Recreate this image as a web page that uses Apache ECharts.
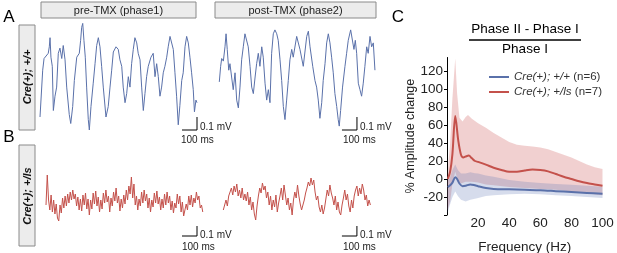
<!DOCTYPE html>
<html>
<head>
<meta charset="utf-8">
<title>Amplitude change</title>
<script src="https://cdn.jsdelivr.net/npm/echarts@6/dist/echarts.min.js"></script>
<style>
html, body { margin: 0; padding: 0; background: #fff; }
#fig { width: 617px; height: 253px; }
</style>
</head>
<body>
<div id="fig"></div>
<script>
// ---- traces (A: Cre(+); +/+), [ms, mV] ----
var preWtTrace = [[0,0.10],[18,0.46],[27,0.55],[40,0.54],[55,0.59],[62,0.64],[67,0.71],[73,0.56],[82,0.49],[89,0.15],[100,0.26],[111,0.33],[122,0.59],[133,0.63],[145,0.55],[155,0.65],[167,0.54],[178,0.33],[195,0.12],[205,0.05],[218,0.18],[229,0.38],[245,0.56],[262,0.59],[271,0.69],[278,0.79],[285,0.82],[293,0.69],[302,0.56],[311,0.33],[322,0.08],[329,0.00],[340,0.18],[355,0.36],[367,0.51],[378,0.65],[389,0.71],[400,0.64],[411,0.49],[422,0.33],[440,0.10],[455,0.18],[467,0.33],[478,0.46],[489,0.60],[507,0.64],[522,0.62],[533,0.54],[545,0.49],[555,0.33],[567,0.21],[578,0.28],[589,0.41],[600,0.33],[611,0.51],[622,0.62],[633,0.71],[645,0.67],[655,0.59],[667,0.54],[678,0.33],[689,0.15],[700,0.28],[711,0.41],[722,0.49],[740,0.56],[755,0.59],[767,0.41],[778,0.51],[789,0.41],[800,0.26],[811,0.33],[822,0.44],[833,0.49],[845,0.56],[855,0.64],[867,0.72],[878,0.73],[889,0.62],[900,0.44],[911,0.26],[922,0.04],[933,0.19],[945,0.38],[955,0.44],[967,0.64],[978,0.72],[989,0.67],[1000,0.56],[1011,0.44],[1022,0.31],[1030,0.14],[1040,0.23],[1047,0.21]];
var postWtTrace = [[0,0.37],[9,0.49],[16,0.55],[27,0.53],[38,0.64],[45,0.74],[53,0.62],[63,0.46],[71,0.51],[83,0.40],[93,0.31],[105,0.44],[116,0.23],[127,0.17],[138,0.33],[149,0.54],[160,0.64],[171,0.74],[183,0.73],[193,0.64],[205,0.49],[216,0.33],[227,0.28],[238,0.40],[249,0.51],[260,0.59],[271,0.49],[283,0.64],[293,0.56],[305,0.36],[316,0.23],[327,0.31],[338,0.21],[349,0.59],[360,0.74],[371,0.77],[383,0.74],[393,0.69],[405,0.54],[416,0.38],[427,0.18],[438,0.08],[449,0.23],[460,0.38],[471,0.54],[483,0.62],[493,0.56],[516,0.72],[538,0.62],[560,0.49],[583,0.72],[594,0.76],[605,0.64],[623,0.49],[638,0.38],[649,0.33],[660,0.23],[671,0.09],[683,0.21],[693,0.38],[705,0.51],[716,0.67],[727,0.74],[738,0.67],[749,0.56],[760,0.44],[771,0.28],[783,0.18],[793,0.08],[800,0.03],[809,0.15],[822,0.33],[838,0.49],[849,0.59],[860,0.69],[876,0.77],[889,0.78],[898,0.62],[907,0.69],[916,0.59],[927,0.36],[938,0.31],[949,0.26],[960,0.36],[971,0.49],[983,0.64],[993,0.59],[1005,0.72],[1016,0.64],[1027,0.67],[1038,0.46]];

// ---- traces (B: Cre(+); +/ls), mV sampled every step ms ----
var preLsStep = 8.5;
var preLsTrace = [-0.03,0.27,0.02,-0.08,0.07,-0.10,0.02,-0.12,-0.02,-0.16,
  -0.19,-0.03,-0.11,0.04,-0.06,0.06,-0.04,0.08,-0.01,0.10,
  0.02,0.12,0.03,0.08,-0.04,0.05,-0.08,0.03,-0.09,0.07,
  -0.03,0.09,-0.07,0.03,-0.13,0.02,-0.07,0.09,-0.02,0.11,
  -0.04,0.05,-0.10,0.02,-0.07,0.09,-0.01,0.12,0.00,0.06,
  -0.10,0.04,-0.04,0.10,0.01,0.14,-0.01,0.06,-0.09,0.03,
  -0.06,0.07,-0.02,0.12,0.02,0.16,0.08,0.25,0.04,0.18,
  -0.03,0.06,-0.08,0.03,-0.04,0.10,-0.01,0.12,0.01,0.08,
  -0.06,0.04,-0.10,0.02,-0.05,0.09,-0.01,0.11,-0.02,0.05,
  -0.08,0.03,-0.06,0.08,-0.03,0.10,-0.01,0.06,-0.08,0.01,
  -0.11,-0.01,-0.06,0.08,-0.02,0.06,-0.10,0.00,-0.14,-0.16,
  -0.02,-0.08,0.06,-0.03,0.07,-0.05,0.04,-0.01,0.10,0.02,
  0.06,-0.06,-0.03,-0.10];
var postLsStep = 9;
var postLsTrace = [-0.12,-0.07,-0.02,-0.08,0.02,0.06,0.10,
  0.03,0.12,0.06,0.14,0.02,0.08,0.00,0.10,-0.02,0.04,
  -0.03,0.06,-0.07,0.01,-0.12,-0.04,-0.16,-0.22,
  -0.08,0.02,0.10,0.05,0.15,0.08,0.12,
  0.00,0.06,-0.07,0.02,-0.12,-0.02,-0.09,0.03,-0.14,-0.05,
  0.02,0.10,-0.02,0.13,0.03,-0.07,0.00,-0.12,-0.05,-0.17,-0.02,
  0.06,0.00,0.13,0.02,-0.06,-0.12,-0.10,-0.02,
  0.05,0.10,0.16,0.12,0.20,0.13,0.18,
  0.06,-0.02,0.02,-0.09,-0.14,-0.07,-0.16,-0.10,
  -0.01,0.08,0.02,0.13,0.05,0.00,-0.07,0.02,-0.12,-0.04,-0.14,
  -0.17,-0.07,0.00,0.08,-0.02,0.04,-0.08,-0.14,-0.02,-0.10,0.02,
  0.08,0.12,0.02,0.10,0.04,0.14,0.08,-0.02,0.03,-0.08,-0.02,-0.07];

// ---- C: % amplitude change vs frequency, [Hz, %] ----
var wtMean  = [[0.5,-9],[2,-7],[3.5,-4],[5.3,2],[6.5,0],[8,-5],[10,-8],[12,-7.5],[15,-6],[18,-7],[20,-8],[25,-10],[30,-11],[40,-11.5],[50,-12],[60,-12.5],[70,-13.5],[80,-14.5],[90,-15.5],[100,-16.5]];
var wtUpper = [[0.3,-2],[2,2],[3.5,10],[5.3,16],[7,10],[9,6],[12,6],[15,7.5],[18,6.5],[20,6],[25,4],[30,2.5],[40,-1],[50,-3],[60,-4.5],[70,-5.5],[80,-6.5],[90,-7.5],[100,-8.5]];
var wtLower = [[0.3,-38],[2,-28],[3.5,-20],[5.3,-14],[7,-19],[9,-23],[12,-25],[15,-23],[18,-22],[20,-21],[25,-19],[30,-18],[40,-17],[50,-16.5],[60,-17],[70,-18],[80,-19],[90,-20],[100,-21]];
var lsMean  = [[0.5,0],[2,8],[3.5,28],[5.3,70],[7.3,42],[9,27],[10.5,24],[12,25],[14,26],[16,23],[18,20],[20,19],[25,16],[30,12.5],[35,10],[40,8],[45,8],[50,9.5],[55,10.5],[60,10],[65,8.5],[70,5.5],[75,2.5],[80,0],[85,-2.5],[90,-4.5],[95,-6],[100,-7.5]];
var lsUpper = [[0.3,5],[2,40],[3.5,90],[5.3,134],[6.5,95],[8,68],[10,64],[12,69],[13.5,71],[16,67],[20,62],[25,57],[30,51],[35,46],[40,41],[45,38],[50,37],[55,36],[60,35],[65,33],[70,30],[75,27],[80,24],[85,20],[90,16],[95,13],[100,11]];
var lsLower = [[0.3,-35],[2,-25],[3.5,-5],[5.3,8],[7,-2],[9,-5],[12,-3],[16,-3],[20,-4],[25,-6],[30,-7],[40,-9],[50,-10],[60,-11],[70,-12],[80,-14],[90,-16],[100,-18]];

var wtName = 'Cre(+); +/+ (n=6)';
var lsName = 'Cre(+); +/ls (n=7)';
var freqTicks = [20, 40, 60, 80, 100];
var scaleBarMs = 100, scaleBarMv = 0.1;

// ---- layout ----
var FONT = "'Liberation Sans', Arial, sans-serif";
var BLUE = '#5a71aa', RED = '#c4514b';
// scale bar corner for each trace panel: [ms, mV]
var barCorners = [[1047, 0], [918, 0], [1007, -0.34], [891, -0.38]];

function sampled(vals, step) {
    return vals.map(function (v, i) { return [i * step, v]; });
}
function scaleBar(c) {
    return [[c[0] - scaleBarMs, c[1]], [c[0], c[1]], [c[0], c[1] + scaleBarMv]];
}
function traceSeries(idx, data, color) {
    return {
        type: 'line', xAxisIndex: idx, yAxisIndex: idx, data: data,
        showSymbol: false, silent: true,
        lineStyle: { color: color, width: 1 }
    };
}
function barSeries(idx) {
    return {
        type: 'line', xAxisIndex: idx, yAxisIndex: idx, data: scaleBar(barCorners[idx]),
        showSymbol: false, silent: true,
        lineStyle: { color: '#000', width: 1 }
    };
}
function band(upper, lower, fill) {
    return {
        type: 'custom', xAxisIndex: 4, yAxisIndex: 4, data: [[0, 0]], silent: true, z: 1,
        renderItem: function (params, api) {
            var pts = [];
            upper.forEach(function (p) { pts.push(api.coord(p)); });
            lower.slice().reverse().forEach(function (p) { pts.push(api.coord(p)); });
            return { type: 'polygon', shape: { points: pts }, style: { fill: fill } };
        }
    };
}
function hiddenX(idx, max) { return { type: 'value', gridIndex: idx, min: 0, max: max, show: false }; }
function hiddenY(idx, min, max) { return { type: 'value', gridIndex: idx, min: min, max: max, show: false }; }
function plotGrid(left, top, width, height) {
    return { left: left, top: top, width: width, height: height, outerBoundsMode: 'none', containLabel: false };
}

function txt(x, y, text, size, opts) {
    opts = opts || {};
    return {
        type: 'text', x: x, y: y, rotation: opts.rotation || 0, silent: true,
        style: {
            text: text, x: 0, y: 0,
            font: (opts.style || '') + ' ' + (opts.weight || 'normal') + ' ' + size + 'px ' + FONT,
            fill: opts.color || '#222',
            textAlign: opts.align || 'center', textVerticalAlign: 'middle'
        }
    };
}
function box(x, y, w, h) {
    return {
        type: 'rect', shape: { x: x, y: y, width: w, height: h }, silent: true,
        style: { fill: '#ececec', stroke: '#8a8a8a', lineWidth: 1 }
    };
}

var chart = echarts.init(document.getElementById('fig'));
var option = {
    animation: false,
    backgroundColor: '#fff',
    textStyle: { fontFamily: FONT },
    grid: [
        plotGrid(40, 19.5, 157, 117),
        plotGrid(219.3, 19.5, 157, 117),
        plotGrid(46, 170, 157, 72),
        plotGrid(223.3, 170, 157, 72),
        plotGrid(447, 57.5, 155.5, 157.5)
    ],
    xAxis: [
        hiddenX(0, 1047), hiddenX(1, 1047), hiddenX(2, 1047), hiddenX(3, 1047),
        {
            type: 'value', gridIndex: 4, min: 0, max: 100, interval: 20,
            axisLine: { show: false }, axisTick: { show: false }, splitLine: { show: false },
            axisLabel: {
                margin: 1, fontSize: 13.5, color: '#222',
                formatter: function (v) { return freqTicks.indexOf(v) >= 0 ? String(v) : ''; }
            },
            name: 'Frequency (Hz)', nameLocation: 'middle', nameGap: 25,
            nameTextStyle: { fontSize: 13.5, color: '#222' }
        }
    ],
    yAxis: [
        hiddenY(0, -0.05, 0.85), hiddenY(1, -0.05, 0.85), hiddenY(2, -0.40, 0.32), hiddenY(3, -0.44, 0.28),
        {
            type: 'value', gridIndex: 4, min: -40, max: 135, interval: 20,
            axisLine: { show: true, lineStyle: { color: '#000', width: 1 } },
            axisTick: { show: true, length: 3, lineStyle: { color: '#000' } },
            splitLine: { show: false },
            axisLabel: {
                margin: 4, fontSize: 13.5, color: '#222', showMaxLabel: false,
                formatter: function (v) { return v >= -20 && v <= 120 ? String(v) : ''; }
            },
            name: '% Amplitude change', nameLocation: 'middle', nameGap: 29, nameRotate: 90,
            nameTextStyle: { fontSize: 12.5, color: '#222' }
        }
    ],
    legend: {
        data: [wtName, lsName], orient: 'vertical', left: 484, top: 66,
        itemWidth: 20, itemHeight: 2, itemGap: 3, icon: 'rect',
        formatter: function (name) {
            var k = name.indexOf(' (');
            return '{i|' + name.slice(0, k) + '} {n|' + name.slice(k + 1) + '}';
        },
        textStyle: {
            rich: {
                i: { fontStyle: 'italic', fontSize: 11.5, color: '#333', fontFamily: FONT },
                n: { fontSize: 11.5, color: '#333', fontFamily: FONT }
            }
        }
    },
    series: [
        traceSeries(0, preWtTrace, BLUE), barSeries(0),
        traceSeries(1, postWtTrace, BLUE), barSeries(1),
        traceSeries(2, sampled(preLsTrace, preLsStep), RED), barSeries(2),
        traceSeries(3, sampled(postLsTrace, postLsStep), RED), barSeries(3),
        band(lsUpper, lsLower, 'rgba(210,100,100,0.3)'),
        band(wtUpper, wtLower, 'rgba(90,115,180,0.25)'),
        {
            name: wtName, type: 'line', xAxisIndex: 4, yAxisIndex: 4, data: wtMean,
            showSymbol: false, smooth: 0.3, z: 3, color: BLUE, lineStyle: { width: 2 }
        },
        {
            name: lsName, type: 'line', xAxisIndex: 4, yAxisIndex: 4, data: lsMean,
            showSymbol: false, smooth: 0.3, z: 3, color: RED, lineStyle: { width: 2 }
        }
    ],
    graphic: [
        box(41, 2, 155, 16), txt(118.5, 10.5, 'pre-TMX (phase1)', 11),
        box(215, 2, 161, 16), txt(295.5, 10.5, 'post-TMX (phase2)', 11),
        box(19, 25, 16, 105), txt(27.5, 77, 'Cre(+); +/+', 11, { rotation: Math.PI / 2, weight: 'bold', style: 'italic', color: '#111' }),
        box(19, 145, 16, 101), txt(27.5, 196, 'Cre(+); +/ls', 11, { rotation: Math.PI / 2, weight: 'bold', style: 'italic', color: '#111' }),
        txt(9, 17, 'A', 17, { color: '#000' }),
        txt(9, 137, 'B', 17, { color: '#000' }),
        txt(398, 17, 'C', 17, { color: '#000' }),
        txt(525, 29, 'Phase II - Phase I', 13.5, { color: '#000' }),
        { type: 'line', silent: true, shape: { x1: 469, y1: 40, x2: 581, y2: 40 }, style: { stroke: '#000', lineWidth: 1.5 } },
        txt(525, 49, 'Phase I', 13.5, { color: '#000' }),
        txt(200, 127, '0.1 mV', 10, { align: 'left' }), txt(181, 140, '100 ms', 10, { align: 'left' }),
        txt(360, 127, '0.1 mV', 10, { align: 'left' }), txt(343, 140, '100 ms', 10, { align: 'left' }),
        txt(200, 235, '0.1 mV', 10, { align: 'left' }), txt(182, 247, '100 ms', 10, { align: 'left' }),
        txt(360, 235, '0.1 mV', 10, { align: 'left' }), txt(343, 247, '100 ms', 10, { align: 'left' })
    ]
};
chart.setOption(option);
window.addEventListener('resize', function () { chart.resize(); });
</script>
</body>
</html>
